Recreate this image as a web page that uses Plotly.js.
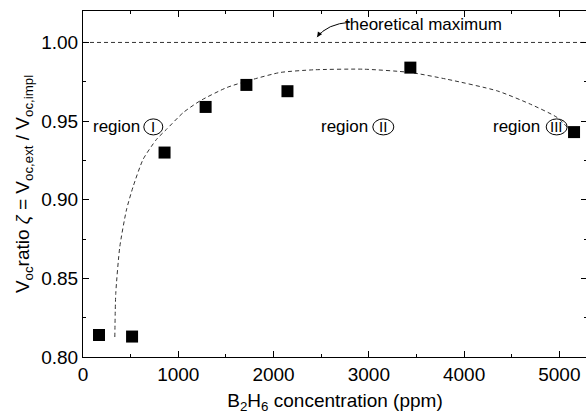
<!DOCTYPE html>
<html>
<head>
<meta charset="utf-8">
<script src="https://cdn.plot.ly/plotly-3.0.1.min.js"></script>
<style>html,body{margin:0;padding:0;overflow:hidden;background:#fff;}#chart{width:588px;height:414px;}</style>
</head>
<body>
<div id="chart"></div>
<script>
// measured data (B2H6 concentration in ppm, Voc ratio)
const concentration = [168, 515, 856, 1287, 1715, 2146, 3436, 5154];
const vocRatio      = [0.814, 0.813, 0.930, 0.959, 0.973, 0.969, 0.984, 0.943];

// dashed guide curve
const fitX = [334, 344, 386, 456, 526, 631, 772, 877, 1052, 1227, 1508, 1788, 2069, 2419, 2945, 3436, 3822, 4348, 4698, 4979, 5119];
const fitY = [0.8127, 0.8404, 0.870, 0.8935, 0.9083, 0.9257, 0.9384, 0.9448, 0.9554, 0.9628, 0.9713, 0.9766, 0.9809, 0.9826, 0.983, 0.9809, 0.9766, 0.9692, 0.9607, 0.9522, 0.9437];

// theoretical maximum reference line
const theoreticalMax = 1.00;
const xRange = [0, 5290];
const yRange = [0.80, 1.02];

const xTickVals = [0, 1000, 2000, 3000, 4000, 5000];
const yTickVals = [0.80, 0.85, 0.90, 0.95, 1.00];

// region labels
const regionNames = ['I', 'II', 'III'];
const regionTextX = [349, 2742, 4551];
const regionCircleX = [738, 3152, 4972];
const regionY = 0.9463;

// "theoretical maximum" label and its curved pointer
const labelX = 3570, labelY = 1.0112;
const pointerStart = [2805, 1.0129];
const pointerCtrl  = [2560, 1.0118];
const pointerTip   = [2458, 1.0034];

const FONT = '"Liberation Sans", Arial, Helvetica, sans-serif';
const lineCol = '#333';

const traces = [
  {
    x: xRange, y: [theoreticalMax, theoreticalMax],
    mode: 'lines', line: {color: lineCol, width: 1, dash: '4px,3px'},
    hoverinfo: 'skip', showlegend: false
  },
  {
    x: fitX, y: fitY, mode: 'lines',
    line: {color: lineCol, width: 1, dash: '4px,3px', shape: 'spline', smoothing: 0.6},
    hoverinfo: 'skip', showlegend: false
  },
  {
    x: concentration, y: vocRatio, mode: 'markers',
    marker: {symbol: 'square', size: 12, color: '#000'},
    showlegend: false
  }
];

const annotations = [];
const shapes = [];
regionNames.forEach((n, i) => {
  annotations.push({x: regionTextX[i], y: regionY, xref: 'x', yref: 'y', text: 'region', showarrow: false,
    font: {family: FONT, size: 17, color: '#000'}});
  annotations.push({x: regionCircleX[i], y: regionY, xref: 'x', yref: 'y', text: n, showarrow: false,
    font: {family: FONT, size: 15, color: '#000'}});
  const hw = n.length === 1 ? 9.5 : 10.5;
  shapes.push({type: 'circle', xref: 'x', yref: 'y', xsizemode: 'pixel', ysizemode: 'pixel',
    xanchor: regionCircleX[i], yanchor: regionY, x0: -hw, x1: hw, y0: -8, y1: 8,
    line: {color: '#000', width: 1}});
});

annotations.push({
  x: labelX, y: labelY, xref: 'x', yref: 'y',
  text: 'theoretical maximum', showarrow: false,
  font: {family: FONT, size: 17, color: '#000'}
});
// curved pointer
shapes.push({
  type: 'path', xref: 'x', yref: 'y',
  path: 'M ' + pointerStart[0] + ',' + pointerStart[1] + ' Q ' + pointerCtrl[0] + ',' + pointerCtrl[1] + ' ' + pointerTip[0] + ',' + pointerTip[1],
  line: {color: '#000', width: 1}
});
// arrow head
annotations.push({
  x: pointerTip[0], y: pointerTip[1], xref: 'x', yref: 'y', text: '',
  showarrow: true, arrowhead: 2, arrowsize: 1, arrowwidth: 1, arrowcolor: '#000',
  ax: 4, ay: -6, standoff: 0
});

const axisCommon = {
  showline: true, linecolor: '#000', linewidth: 1, mirror: 'ticks',
  ticks: 'inside', ticklen: 6, tickwidth: 1, tickcolor: '#000',
  showgrid: false, zeroline: false,
  tickfont: {family: FONT, size: 19, color: '#000'}
};

const layout = {
  width: 588, height: 414,
  margin: {l: 83, r: 1, t: 11, b: 57},
  paper_bgcolor: '#fff', plot_bgcolor: '#fff',
  font: {family: FONT, color: '#000'},
  xaxis: Object.assign({}, axisCommon, {
    range: xRange, tickvals: xTickVals, ticktext: xTickVals.map(String),
    minor: {ticks: 'inside', ticklen: 3, tickcolor: '#000', dtick: 500, tick0: 0, showgrid: false},
    title: {text: 'B<sub>2</sub>H<sub>6</sub> concentration (ppm)', font: {family: FONT, size: 19, color: '#000'}, standoff: 10}
  }),
  yaxis: Object.assign({}, axisCommon, {
    range: yRange, tickvals: yTickVals, ticktext: yTickVals.map(v => v.toFixed(2)),
    minor: {ticks: 'inside', ticklen: 3, tickcolor: '#000', dtick: 0.025, tick0: 0.8, showgrid: false},
    title: {text: 'V<sub>oc</sub>ratio <i>ζ</i> = V<sub>oc,ext</sub> / V<sub>oc,impl</sub>', font: {family: FONT, size: 19, color: '#000'}, standoff: 6}
  }),
  annotations: annotations,
  shapes: shapes
};

Plotly.newPlot('chart', traces, layout, {staticPlot: true, displayModeBar: false});
</script>
</body>
</html>
